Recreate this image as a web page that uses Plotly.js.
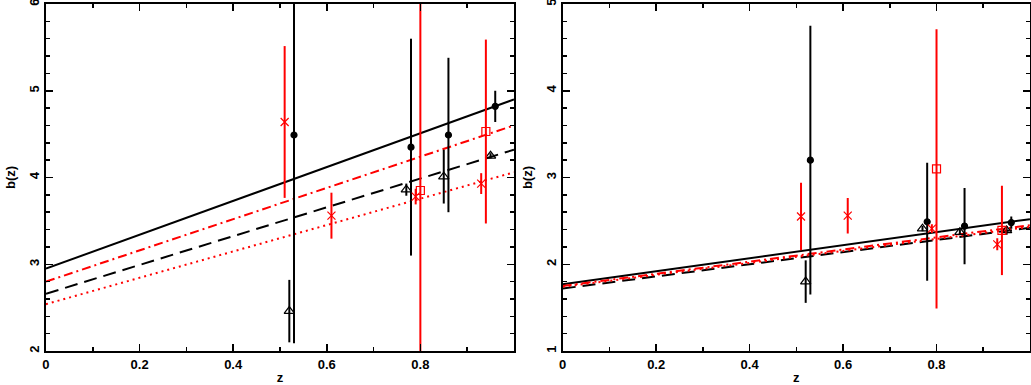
<!DOCTYPE html>
<html>
<head>
<meta charset="utf-8">
<script src="https://cdn.plot.ly/plotly-3.0.1.min.js"></script>
<style>
  html, body { margin: 0; padding: 0; background: #fff; }
  #plot { width: 1031px; height: 385px; }
</style>
</head>
<body>
<div id="plot"></div>
<script>
// redshift positions of the samples
const zCirc = [0.53, 0.78, 0.86, 0.96];
const zTri = [0.52, 0.77, 0.85, 0.95];
const zCross = [0.51, 0.61, 0.79, 0.93];
const zSq = [0.80, 0.94];

// left panel b(z) and errors
const bCircL = [4.49, 4.35, 4.49, 4.82];
const errCircL = [2.40, 1.25, 0.89, 0.18];
const bTriL = [2.46, 3.86, 4.01, 4.25];
const errTriL = [0.36, 0.07, 0.31, 0.03];
const bCrossL = [4.64, 3.56, 3.78, 3.93];
const errCrossL = [0.875, 0.265, 0.09, 0.12];
const bSqL = [3.85, 4.53];
const errSqL = [2.60, 1.06];

// right panel b(z) and errors
const bCircR = [3.20, 2.49, 2.44, 2.48];
const errCircR = [1.55, 0.68, 0.44, 0.07];
const bTriR = [1.80, 2.41, 2.37, 2.39];
const errTriR = [0.245, 0.03, 0.03, 0.05];
const bCrossR = [2.55, 2.56, 2.41, 2.23];
const errCrossR = [0.39, 0.205, 0.05, 0.07];
const bSqR = [3.10, 2.39];
const errSqR = [1.61, 0.515];

// fitted lines, endpoints at z = 0 and z = 1
const zFit = [0, 1];
const fitSolidL = [2.95, 4.90];
const fitDashDotL = [2.80, 4.60];
const fitDashL = [2.66, 4.32];
const fitDotL = [2.54, 4.06];
const fitSolidR = [1.77, 2.52];
const fitDashDotR = [1.75, 2.45];
const fitDashR = [1.72, 2.42];
const fitDotR = [1.74, 2.43];

// tick labels
const xTicks = [0, 0.2, 0.4, 0.6, 0.8];
const xTickText = ['0', '0.2', '0.4', '0.6', '0.8'];
const yTicksL = [2, 3, 4, 5, 6];
const yTicksR = [1, 2, 3, 4, 5];

const RED = '#ff0000';
const BLACK = '#000000';

function fitTrace(y, color, dash, xa, ya) {
    return {
        x: zFit, y: y, xaxis: xa, yaxis: ya,
        type: 'scatter', mode: 'lines', hoverinfo: 'skip',
        line: { color: color, width: 2, dash: dash }
    };
}

function pointTrace(z, b, err, color, symbol, size, xa, ya) {
    return {
        x: z, y: b, xaxis: xa, yaxis: ya,
        type: 'scatter', mode: 'markers',
        marker: { symbol: symbol, size: size, color: color, line: { color: color, width: 1.2 } },
        error_y: { type: 'data', array: err, visible: true, color: color, thickness: 2, width: 0 }
    };
}

function panel(xa, ya, fits, circ, tri, cross, sq) {
    return [
        fitTrace(fits[0], BLACK, 'solid', xa, ya),
        fitTrace(fits[1], RED, '9px,4px,2px,4px', xa, ya),
        fitTrace(fits[2], BLACK, '13px,7px', xa, ya),
        fitTrace(fits[3], RED, '2px,4px', xa, ya),
        pointTrace(zCirc, circ[0], circ[1], BLACK, 'circle', 6, xa, ya),
        pointTrace(zTri, tri[0], tri[1], BLACK, 'triangle-up-open', 9, xa, ya),
        pointTrace(zCross, cross[0], cross[1], RED, 'x-thin-open', 8, xa, ya),
        pointTrace(zSq, sq[0], sq[1], RED, 'square-open', 8, xa, ya)
    ];
}

const data = [].concat(
    panel('x', 'y', [fitSolidL, fitDashDotL, fitDashL, fitDotL],
        [bCircL, errCircL], [bTriL, errTriL], [bCrossL, errCrossL], [bSqL, errSqL]),
    panel('x2', 'y2', [fitSolidR, fitDashDotR, fitDashR, fitDotR],
        [bCircR, errCircR], [bTriR, errTriR], [bCrossR, errCrossR], [bSqR, errSqR])
);

const font = { family: 'Liberation Sans, Arial, sans-serif', size: 13, color: '#000' };
const bold = s => '<b>' + s + '</b>';

function xAxis(domain, anchor) {
    return {
        domain: domain, anchor: anchor, range: [0, 1],
        showgrid: false, zeroline: false,
        showline: true, linecolor: BLACK, linewidth: 2, mirror: 'ticks',
        ticks: 'inside', ticklen: 7, tickwidth: 1.5, tickcolor: BLACK,
        tickvals: xTicks, ticktext: xTickText.map(bold), ticklabeloverflow: 'allow',
        minor: { ticks: 'inside', dtick: 0.1, ticklen: 4, tickwidth: 1.5, tickcolor: BLACK },
        tickfont: font,
        title: { text: bold('z'), font: font, standoff: 4 }
    };
}

function yAxis(range, ticks, anchor) {
    return {
        domain: [0.0883, 0.9896], anchor: anchor, range: range,
        showgrid: false, zeroline: false,
        showline: true, linecolor: BLACK, linewidth: 2, mirror: 'ticks',
        ticks: 'inside', ticklen: 7, tickwidth: 1.5, tickcolor: BLACK,
        tickvals: ticks, ticktext: ticks.map(v => bold(String(v))), tickangle: -90,
        ticklabeloverflow: 'allow',
        minor: { ticks: 'inside', dtick: 0.2, ticklen: 4, tickwidth: 1.5, tickcolor: BLACK },
        tickfont: font,
        title: { text: bold('b(z)'), font: font, standoff: 8 }
    };
}

const layout = {
    width: 1031, height: 385,
    margin: { l: 0, r: 0, t: 0, b: 0 },
    paper_bgcolor: '#fff', plot_bgcolor: '#fff',
    showlegend: false,
    xaxis: xAxis([0.0446, 0.4985], 'y'),
    yaxis: yAxis([2, 6], yTicksL, 'x'),
    xaxis2: xAxis([0.5458, 0.999], 'y2'),
    yaxis2: yAxis([1, 5], yTicksR, 'x2')
};

Plotly.newPlot('plot', data, layout, { staticPlot: true });
</script>
</body>
</html>
